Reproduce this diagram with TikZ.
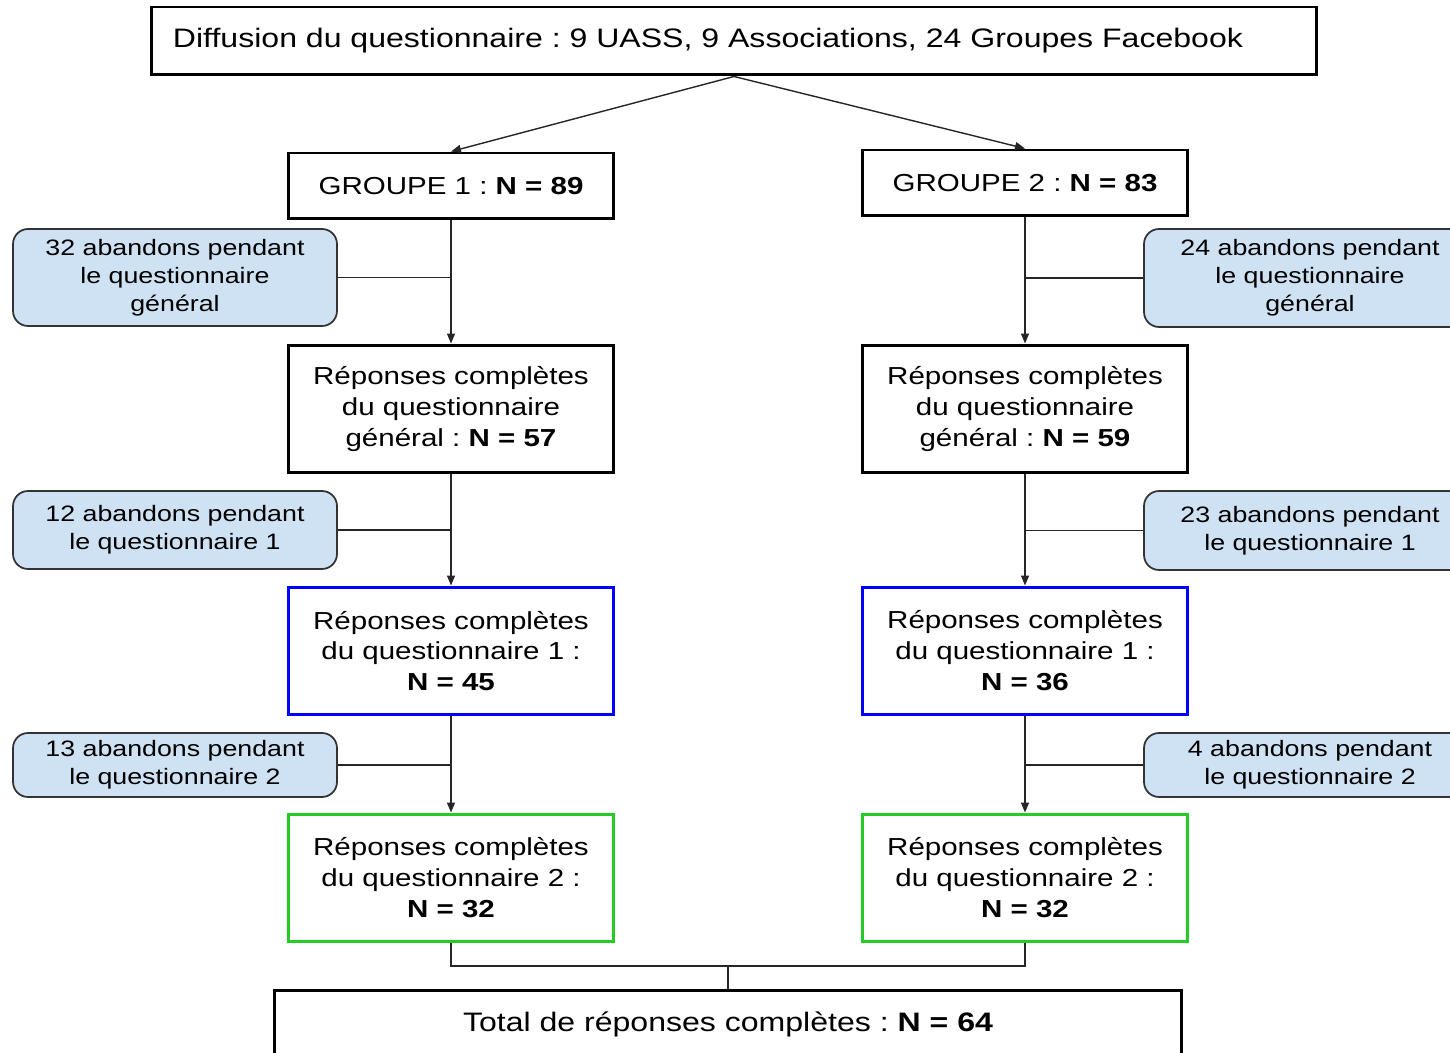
\documentclass[tikz,border=0pt]{standalone}
\usepackage{fontspec}
\setmainfont{Liberation Sans}[FakeStretch=1.2]
\frenchspacing
\usepackage{tikz}
\usetikzlibrary{positioning, arrows.meta}
\definecolor{dropblue}{HTML}{CFE2F3}
\definecolor{qonecol}{HTML}{0000FF}
\definecolor{qtwocol}{HTML}{22CC22}
\tikzset{
>={Triangle[length=0.2cm, width=0.16cm]}, % small filled arrow heads
box/.style={draw, line width=1.7pt, inner sep=0pt, align=center, minimum width=6.52cm, font=\fontsize{14}{17.6}\selectfont}, % main boxes
tall/.style={minimum height=2.56cm}, % three-line boxes
wide/.style={font=\fontsize{15.2}{18}\selectfont, minimum height=1.36cm}, % top and bottom boxes
dropbox/.style={draw=black!80, line width=1pt, rounded corners=0.3cm, fill=dropblue, inner sep=0pt, align=center, font=\fontsize{12.7}{16}\selectfont}, % drop-out boxes
link/.style={line width=0.8pt, draw=black!85}, % connectors
}

\begin{document}
\begin{tikzpicture}[x=0.02cm, y=-0.02cm]
\useasboundingbox (0,0) rectangle (1450,1053);
\clip (0,0) rectangle (1450,1053);
% top
\node[box, wide, minimum width=23.32cm] at (734,41) (diff) {Diffusion du questionnaire : 9 UASS, 9 Associations, 24 Groupes Facebook\hspace*{1.04cm}};
% group 1
\node[box, minimum height=1.32cm] at (451,186) (g1) {GROUPE 1 : \textbf{N = 89}};
\node[box, tall] at (451,409) (gen1) {Réponses complètes\\du questionnaire\\général : \textbf{N = 57}};
\node[box, tall, draw=qonecol] at (451,651) (qa1) {Réponses complètes\\du questionnaire 1 :\\\textbf{N = 45}};
\node[box, tall, draw=qtwocol] at (451,878) (qb1) {Réponses complètes\\du questionnaire 2 :\\\textbf{N = 32}};
% group 2
\node[box, minimum height=1.32cm] at (1025,183) (g2) {GROUPE 2 : \textbf{N = 83}};
\node[box, tall] at (1025,409) (gen2) {Réponses complètes\\du questionnaire\\général : \textbf{N = 59}};
\node[box, tall, draw=qonecol] at (1025,651) (qa2) {Réponses complètes\\du questionnaire 1 :\\\textbf{N = 36}};
\node[box, tall, draw=qtwocol] at (1025,878) (qb2) {Réponses complètes\\du questionnaire 2 :\\\textbf{N = 32}};
% drop-outs
\node[dropbox, minimum width=6.48cm, minimum height=1.94cm] at (175,277.5) (ab1) {32 abandons pendant\\le questionnaire\\général};
\node[dropbox, minimum width=6.48cm, minimum height=1.56cm] at (175,530) (ab3) {12 abandons pendant\\le questionnaire 1};
\node[dropbox, minimum width=6.48cm, minimum height=1.28cm] at (175,765) (ab5) {13 abandons pendant\\le questionnaire 2};
\node[dropbox, minimum width=6.64cm, minimum height=1.96cm] at (1310,278) (ab2) {24 abandons pendant\\le questionnaire\\général};
\node[dropbox, minimum width=6.64cm, minimum height=1.58cm] at (1310,530.5) (ab4) {23 abandons pendant\\le questionnaire 1};
\node[dropbox, minimum width=6.64cm, minimum height=1.28cm] at (1310,765) (ab6) {4 abandons pendant\\le questionnaire 2};
% total
\node[box, wide, minimum width=18.14cm] at (728,1024) (total) {Total de réponses complètes : \textbf{N = 64}};
\coordinate (join) at (728,966);

\draw[link, ->] (diff.south) -- (g1.north);
\draw[link, ->] (diff.south) -- (g2.north);
\draw[link, ->] (g1) -- (gen1);
\draw[link, ->] (gen1) -- (qa1);
\draw[link, ->] (qa1) -- (qb1);
\draw[link, ->] (g2) -- (gen2);
\draw[link, ->] (gen2) -- (qa2);
\draw[link, ->] (qa2) -- (qb2);
\draw[link] (ab1.east) -- (ab1.east -| g1.south);
\draw[link] (ab3.east) -- (ab3.east -| g1.south);
\draw[link] (ab5.east) -- (ab5.east -| g1.south);
\draw[link] (ab2.west) -- (ab2.west -| g2.south);
\draw[link] (ab4.west) -- (ab4.west -| g2.south);
\draw[link] (ab6.west) -- (ab6.west -| g2.south);
\draw[link] (qb1.south) |- (join);
\draw[link] (qb2.south) |- (join);
\draw[link] (join) -- (total.north);
\end{tikzpicture}
\end{document}
